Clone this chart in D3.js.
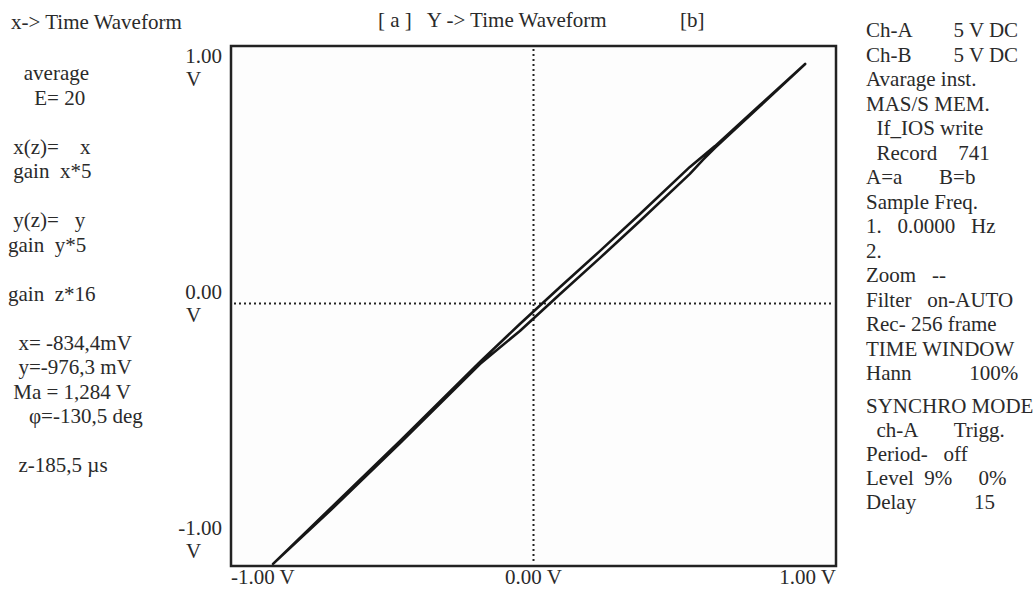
<!DOCTYPE html>
<html><head><meta charset="utf-8">
<script src="https://cdn.jsdelivr.net/npm/d3@7/dist/d3.min.js"></script>
<style>
html,body{margin:0;padding:0;background:#fff;}
svg{display:block;}
text{font-family:"Liberation Serif","Times New Roman",serif;font-size:21px;fill:#2a2a2a;white-space:pre;}
</style></head>
<body><svg id="c" width="1036" height="590"></svg>
<script>
// ---- data ----
const xTicks = [-1, 0, 1];
const yTicks = [1, 0, -1];
const tickUnit = "V";
// closed Lissajous loop (x in V, y in V): up along one branch, back along the other
const loopX = [-0.861, -0.441, -0.177, -0.045, 0.088, 0.220, 0.352, 0.517, 0.600, 0.749, 0.898,
               0.749, 0.600, 0.560, 0.517, 0.352, 0.220, 0.088, -0.045, -0.177, -0.441, -0.673];
const loopY = [-1.002, -0.529, -0.225, -0.079, 0.063, 0.202, 0.344, 0.525, 0.605, 0.763, 0.921,
               0.759, 0.598, 0.552, 0.498, 0.317, 0.175, 0.036, -0.106, -0.233, -0.537, -0.798];
const leftTitle = "x-> Time Waveform";
const centerTitle = "[ a ]   Y -> Time Waveform";
const centerTitleB = "[b]";
const leftPanel = ["   average", "     E= 20", "", " x(z)=    x", " gain  x*5", "",
  " y(z)=   y", "gain  y*5", "", "gain  z*16", "", "  x= -834,4mV", "  y=-976,3 mV",
  " Ma = 1,284 V", "    \u03c6=-130,5 deg", "", "  z-185,5 \u00b5s"];
const rightPanelTop = ["Ch-A        5 V DC", "Ch-B        5 V DC", "Avarage inst.", "MAS/S MEM.",
  "  If_IOS write", "  Record    741", "A=a       B=b", "Sample Freq.", "1.   0.0000   Hz", "2.",
  "Zoom   --", "Filter   on-AUTO", "Rec- 256 frame", "TIME WINDOW", "Hann           100%"];
const rightPanelBottom = ["SYNCHRO MODE", "  ch-A       Trigg.", "Period-   off",
  "Level  9%     0%", "Delay           15"];

// ---- layout ----
const svg = d3.select("#c");
const box = {l: 231, r: 836, t: 46, b: 566};
const x = d3.scaleLinear().domain([-1, 1]).range([box.l, box.r]);
const y = d3.scaleLinear().domain([-1.01, 0.99]).range([box.b, box.t]);

svg.append("rect").attr("x", box.l).attr("y", box.t)
  .attr("width", box.r - box.l).attr("height", box.b - box.t)
  .attr("fill", "#fdfdfd").attr("stroke", "#222").attr("stroke-width", 2.5);

// crosshair
svg.append("line").attr("x1", x(0)).attr("x2", x(0)).attr("y1", box.t + 3).attr("y2", box.b - 3)
  .attr("stroke", "#222").attr("stroke-width", 2).attr("stroke-dasharray", "2,3");
svg.append("line").attr("x1", box.l + 3).attr("x2", box.r - 3).attr("y1", y(0)).attr("y2", y(0))
  .attr("stroke", "#222").attr("stroke-width", 2).attr("stroke-dasharray", "2,3");

// loop
const pts = loopX.map((v, i) => [v, loopY[i]]);
const line = d3.line().x(d => x(d[0])).y(d => y(d[1])).curve(d3.curveLinearClosed);
svg.append("path").attr("d", line(pts)).attr("fill", "none")
  .attr("stroke", "#161616").attr("stroke-width", 2.6).attr("stroke-linejoin", "round");

// x tick labels
svg.selectAll(".xt").data(xTicks).join("text").attr("class", "xt")
  .attr("x", d => x(d)).attr("y", box.b + 18)
  .attr("text-anchor", d => d < 0 ? "start" : d > 0 ? "end" : "middle")
  .text(d => d.toFixed(2) + " " + tickUnit);

// y tick labels
const yl = svg.selectAll(".yt").data(yTicks).join("g").attr("class", "yt")
  .attr("transform", d => `translate(0,${y(d) - 4 + 24 * d})`);
yl.append("text").attr("x", 222).attr("text-anchor", "end").text(d => d.toFixed(2));
yl.append("text").attr("x", 186).attr("y", 23).text(tickUnit);

// titles
svg.append("text").attr("x", 11).attr("y", 29).text(leftTitle);
svg.append("text").attr("x", 378).attr("y", 27).text(centerTitle);
svg.append("text").attr("x", 680).attr("y", 27).text(centerTitleB);

// side panels
svg.selectAll(".lp").data(leftPanel).join("text").attr("class", "lp")
  .attr("x", 8).attr("y", (d, i) => 80 + i * 24.5).text(d => d);
svg.selectAll(".rp").data(rightPanelTop).join("text").attr("class", "rp")
  .attr("x", 866).attr("y", (d, i) => 37 + i * 24.5).text(d => d);
svg.selectAll(".rb").data(rightPanelBottom).join("text").attr("class", "rb")
  .attr("x", 866).attr("y", (d, i) => 413 + i * 24).text(d => d);
</script></body></html>
